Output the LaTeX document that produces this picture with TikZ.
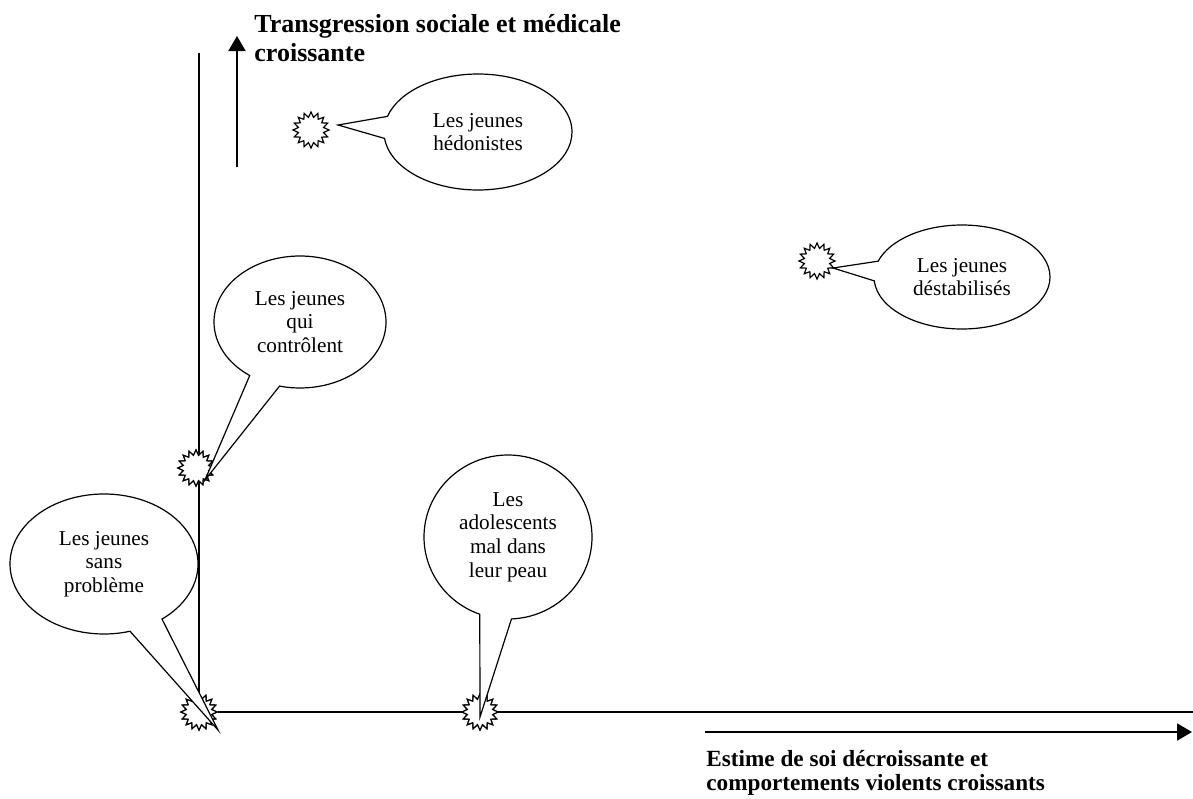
\documentclass[tikz,border=0pt]{standalone}
\usepackage{fontspec}
\setmainfont{Liberation Serif}
\usetikzlibrary{shapes.geometric,shapes.callouts,arrows.meta}
\begin{document}
\begin{tikzpicture}[x=0.5pt,y=-0.5pt,
  burst/.style={star, star points=16, star point ratio=1.4, draw, fill=white,
    line width=0.6pt, minimum size=18pt, inner sep=0pt},
  bubble/.style={ellipse callout, draw, fill=white, line width=0.6pt,
    callout pointer arc=22, align=center, inner sep=0pt,
    font=\fontsize{10.6}{11.8}\selectfont},
  axisline/.style={line width=0.6pt},
  bigarrow/.style={line width=1pt, -{Triangle[width=8.5pt,length=7.5pt]}},
  axislabel/.style={font=\bfseries\fontsize{13}{14.5}\selectfont, align=left, inner sep=0pt}]
\useasboundingbox (0,0) rectangle (1193,798);
% axes
\coordinate (ytop) at (199,53);
\coordinate (xend) at (1193,712);
\node[burst] (sp) at (199,712) {};
\node[burst] (qc) at (196,468) {};
\node[burst] (ad) at (480,712) {};
\node[burst] (he) at (311,130) {};
\node[burst] (de) at (817,261) {};
\draw[axisline] (ytop) -- (sp);
\draw[axisline] (sp) -- (xend);
% redraw bursts over axes
\node[burst] at (sp) {};
\node[burst] at (qc) {};
\node[burst] at (ad) {};
% direction arrows
\coordinate (ua) at (237,167);
\coordinate (ub) at (237,36);
\draw[bigarrow] (ua) -- (ub);
\coordinate (ra) at (705,732);
\coordinate (rb) at (1192,732);
\draw[bigarrow] (ra) -- (rb);
% labels
\node[axislabel, anchor=north west] (ylab) at (254,14) {Transgression sociale et médicale\\croissante};
\node[axislabel, anchor=north west, font=\bfseries\fontsize{11.6}{12}\selectfont] (xlab) at (706,750) {Estime de soi décroissante et\\comportements violents croissants};
% callouts
\coordinate (tphe) at (338,125);
\coordinate (tpde) at (833,268);
\coordinate (tpqc) at (205,480);
\coordinate (tpsp) at (218,730);
\coordinate (tpad) at (480,717);
\node[bubble, minimum width=94pt, minimum height=58pt, callout absolute pointer={(tphe)}] (bhe) at (478,132) {Les jeunes\\hédonistes};
\node[bubble, minimum width=88pt, minimum height=52pt, callout absolute pointer={(tpde)}] (bde) at (962,277) {Les jeunes\\déstabilisés};
\node[bubble, minimum width=86pt, minimum height=66pt, callout absolute pointer={(tpqc)}] (bqc) at (300,322) {Les jeunes\\qui\\contrôlent};
\node[bubble, minimum width=94pt, minimum height=70pt, callout absolute pointer={(tpsp)}] (bsp) at (104,564) {Les jeunes\\sans\\problème};
\node[bubble, minimum width=84pt, minimum height=82pt, callout absolute pointer={(tpad)}] (bad) at (508,537) {Les\\adolescents\\mal dans\\leur peau};
\end{tikzpicture}
\end{document}
